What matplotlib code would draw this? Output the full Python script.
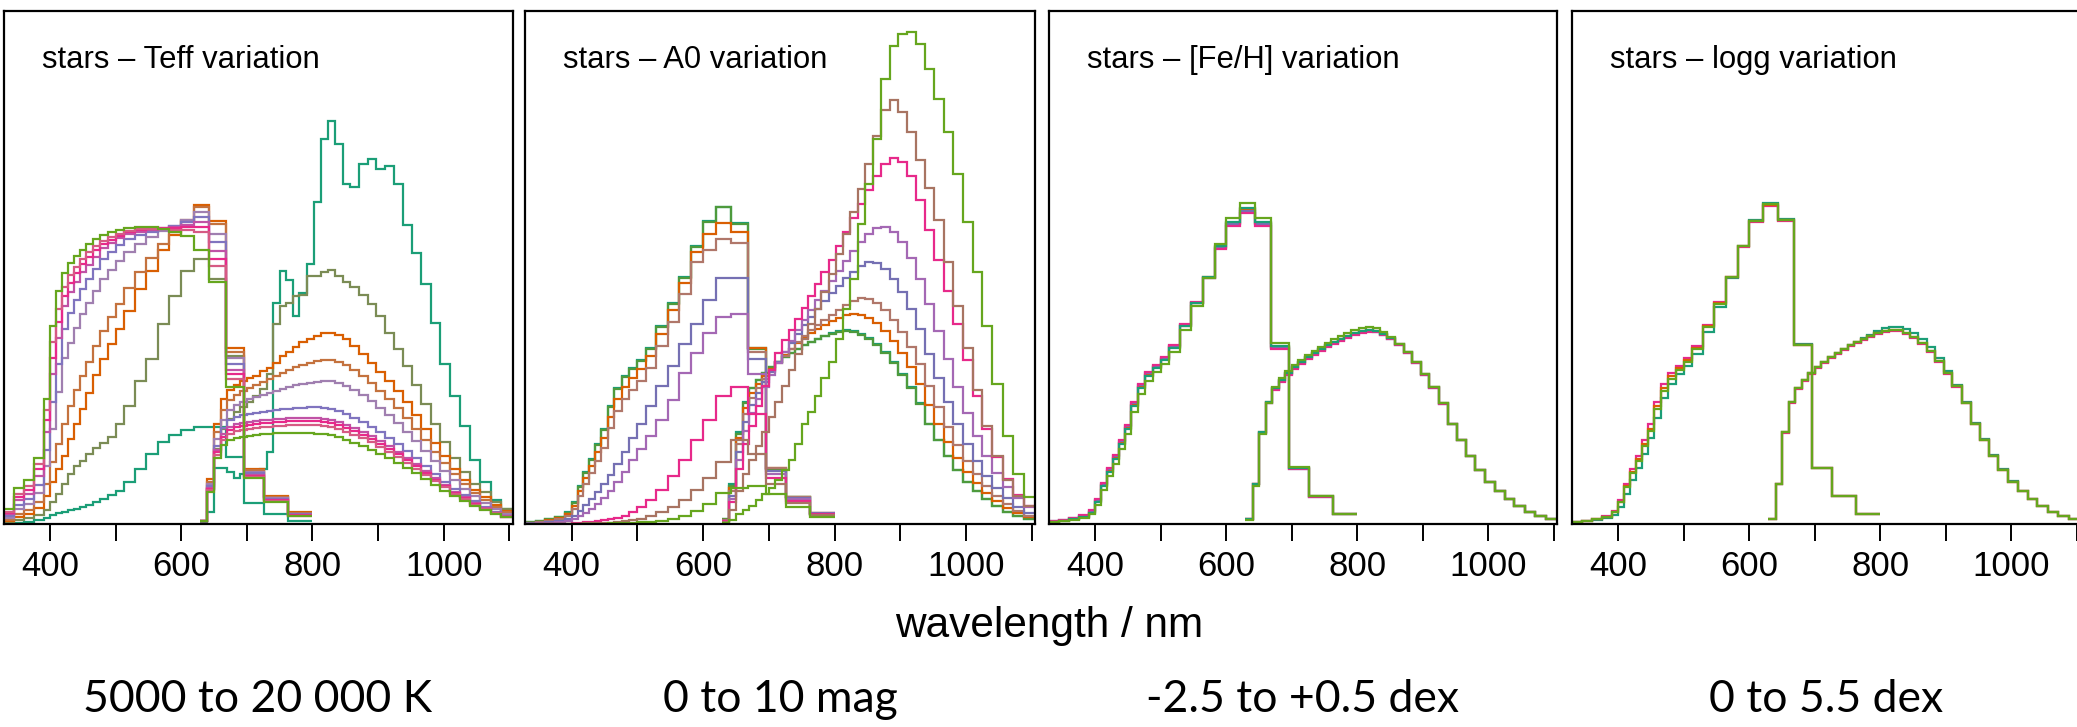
import matplotlib.pyplot as plt

# wavelength bin edges (nm) of the sampled BP and RP spectra
bp_edges = [330, 345, 360, 375, 390, 400, 409, 418, 427, 436, 445, 455, 465, 476, 488,
            500, 513, 529, 546, 564, 582, 600, 620, 643, 668, 696, 726, 763, 800]
rp_edges = [628, 640, 650, 660, 670, 680, 690, 700, 710, 720, 730, 740, 750, 760, 770,
            780, 791, 802, 813, 824, 835, 846, 858, 871, 884, 897, 910, 924, 938, 952,
            966, 980, 995, 1010, 1025, 1040, 1056, 1072, 1088, 1105]

# ---- panel 1: Teff variation (flux in arbitrary units)
teff_bp_teal = [0.5, 1, 2, 4, 6, 9, 11, 12.5, 14, 15.5, 17, 19, 22, 25, 29, 33, 42, 55, 70, 82, 89, 94, 97, 97, 67, 21, 10, 3.6]
teff_bp_olive = [2, 4, 6, 9, 14, 22, 30, 40, 50, 58, 63, 70, 76, 81, 87, 100, 118, 143, 165, 200, 228, 253, 265, 245, 168, 53, 27, 11]
teff_bp_orange = [3, 7, 10, 16, 28, 42, 55, 68, 85, 100, 115, 131, 149, 165, 180, 195, 213, 235, 253, 274, 289, 303, 319, 303, 176, 55, 28, 12]
teff_bp_brown = [4, 10, 14, 22, 40, 62, 80, 100, 118, 134, 148, 162, 178, 193, 207, 220, 236, 252, 266, 280, 292, 304, 317, 300, 172, 54, 27, 11]
teff_bp_lavender = [6, 15, 20, 31, 58, 95, 132, 166, 181, 196, 210, 221, 233, 245, 254, 263, 272, 280, 287, 293, 298, 304, 312, 290, 166, 52, 26, 10]
teff_bp_purple = [8, 19, 25, 39, 74, 122, 160, 195, 211, 224, 235, 245, 255, 265, 272, 279, 285, 289, 292, 295, 298, 302, 307, 282, 160, 51, 25, 10]
teff_bp_orchid = [10, 24, 30, 48, 92, 150, 186, 218, 232, 242, 252, 259, 267, 276, 281, 286, 290, 292, 294, 296, 297, 299, 302, 273, 154, 49, 24, 9]
teff_bp_pink = [11, 27, 34, 55, 104, 166, 202, 228, 241, 251, 260, 267, 274, 280, 284, 288, 292, 294, 295, 296, 296, 297, 297, 265, 150, 48, 24, 9]
teff_bp_rose = [12, 30, 38, 60, 114, 182, 215, 237, 249, 257, 265, 272, 278, 283, 287, 290, 293, 295, 295, 295, 294, 294, 292, 258, 145, 47, 23, 8]
teff_bp_green = [15, 36, 44, 66, 125, 198, 233, 251, 261, 268, 274, 280, 285, 289, 292, 294, 296, 297, 297, 295, 292, 288, 274, 242, 137, 46, 22, 8]

teff_rp_teal = [2, 12, 56, 56, 52, 46, 50, 52, 48, 55, 72, 221, 253, 244, 208, 231, 260, 322, 385, 403, 380, 340, 337, 360, 365, 355, 358, 340, 299, 271, 240, 201, 160, 128, 98, 64, 42, 24, 15]
teff_rp_olive = [3, 35, 75, 95, 105, 112, 117, 122, 128, 135, 150, 200, 218, 221, 228, 229, 248, 248, 252, 254, 248, 242, 237, 229, 220, 208, 191, 175, 158, 139, 120, 100, 82, 66, 52, 40, 32, 22, 15]
teff_rp_orange = [3, 45, 100, 125, 134, 139, 143, 146, 148, 153, 156, 161, 168, 172, 177, 182, 185, 188, 191, 191, 189, 185, 178, 170, 161, 152, 143, 133, 122, 109, 95, 81, 68, 55, 44, 34, 27, 19, 13]
teff_rp_brown = [3, 42, 92, 114, 124, 129, 133, 136, 139, 142, 145, 148, 151, 154, 157, 159, 161, 163, 164, 164, 162, 159, 154, 148, 141, 133, 125, 116, 106, 95, 84, 72, 61, 50, 40, 31, 24, 17, 12]
teff_rp_lavender = [3, 40, 85, 104, 114, 119, 122, 125, 127, 129, 131, 133, 135, 137, 139, 140, 141, 142, 143, 143, 141, 138, 134, 129, 123, 116, 109, 101, 92, 83, 73, 63, 53, 44, 35, 28, 21, 15, 10]
teff_rp_purple = [3, 38, 78, 96, 104, 107, 109, 110, 111, 112, 113, 114, 115, 115, 116, 116, 117, 117, 116, 115, 113, 110, 106, 102, 97, 92, 86, 80, 73, 66, 58, 50, 42, 35, 29, 23, 17, 12, 8]
teff_rp_orchid = [3, 36, 74, 90, 97, 100, 101, 102, 103, 104, 104, 105, 105, 106, 106, 106, 106, 106, 105, 104, 102, 99, 96, 92, 88, 83, 78, 72, 66, 60, 53, 46, 39, 32, 27, 21, 16, 11, 8]
teff_rp_pink = [3, 35, 72, 87, 94, 97, 98, 99, 100, 101, 101, 102, 102, 103, 103, 103, 103, 103, 102, 101, 99, 96, 93, 89, 85, 80, 75, 70, 64, 58, 51, 44, 38, 31, 26, 20, 15, 11, 7]
teff_rp_rose = [3, 34, 69, 84, 90, 93, 94, 95, 96, 97, 97, 98, 98, 99, 99, 99, 99, 99, 98, 97, 95, 92, 89, 86, 82, 77, 72, 67, 61, 55, 49, 43, 37, 30, 25, 19, 15, 11, 7]
teff_rp_green = [3, 32, 66, 79, 84, 86, 87, 88, 89, 90, 90, 91, 91, 91, 91, 91, 91, 90, 90, 89, 87, 84, 81, 78, 74, 70, 66, 61, 56, 51, 45, 39, 33, 28, 23, 18, 14, 10, 7]

# ---- panel 2: A0 variation
a0_bp_teal = [2, 3, 5, 7, 12, 22, 38, 52, 65, 80, 95, 118, 136, 148, 156, 164, 176, 198, 221, 247, 278, 303, 317, 301, 176, 55, 27, 10]
a0_bp_dkgreen = [2, 3, 5, 7, 11, 21, 37, 51, 64, 79, 94, 117, 135, 147, 155, 163, 175, 197, 220, 246, 277, 302, 317, 300, 175, 55, 27, 10]
a0_bp_orange = [1, 2, 4, 6, 10, 18, 33, 46, 58, 72, 86, 107, 125, 137, 146, 155, 168, 190, 214, 241, 272, 290, 301, 292, 176, 56, 27, 11]
a0_bp_rosy = [1, 2, 3, 5, 8, 15, 28, 40, 51, 63, 76, 96, 113, 125, 134, 143, 156, 178, 202, 230, 262, 274, 285, 281, 172, 56, 27, 11]
a0_bp_blue = [1, 1.5, 2, 3, 5, 8, 13, 19, 25, 32, 40, 49, 60, 72, 86, 100, 118, 138, 158, 180, 200, 224, 246, 246, 165, 53, 26, 11]
a0_bp_purple = [0.5, 1, 1.5, 2, 3, 5, 8, 11, 15, 20, 26, 33, 42, 52, 64, 75, 88, 104, 124, 151, 171, 191, 207, 210, 150, 50, 25, 10]
a0_bp_pink = [0.3, 0.4, 0.5, 0.6, 0.8, 1, 1.5, 2, 2.5, 3, 4, 5, 6, 8, 12, 17, 24, 34, 48, 64, 84, 104, 128, 137, 110, 46, 23, 10]
a0_bp_brown = [0, 0, 0, 0, 0, 0.5, 0.5, 1, 1, 1, 1.5, 1.5, 2, 3, 4, 5, 8, 12, 17, 24, 34, 46, 62, 84, 70, 40, 21, 9]
a0_bp_green = [0, 0, 0, 0, 0, 0, 0, 0, 0.5, 0.5, 0.5, 1, 1, 1, 1.5, 2, 2, 3, 5, 8, 13, 20, 31, 36, 38, 30, 17, 7]

a0_rp_teal = [5, 40, 92, 122, 136, 144, 151, 157, 162, 167, 171, 175, 179, 182, 185, 188, 191, 193, 194, 193, 190, 186, 180, 172, 162, 150, 137, 121, 100, 84, 68, 54, 42, 33, 25, 18, 12, 8, 5]
a0_rp_dkgreen = [5, 38, 90, 121, 136, 144, 151, 157, 162, 167, 171, 175, 179, 182, 185, 188, 190, 192, 193, 192, 189, 185, 179, 171, 161, 149, 136, 120, 100, 84, 68, 54, 42, 33, 25, 18, 12, 8, 5]
a0_rp_orange = [4, 36, 86, 116, 131, 140, 148, 155, 162, 169, 175, 181, 186, 191, 195, 199, 203, 206, 209, 210, 209, 206, 201, 193, 183, 171, 157, 140, 119, 100, 82, 66, 52, 41, 31, 23, 16, 11, 7]
a0_rp_rosy = [4, 33, 80, 110, 126, 136, 145, 153, 161, 168, 175, 182, 188, 194, 199, 204, 209, 214, 219, 223, 226, 225, 221, 214, 204, 192, 177, 160, 138, 117, 97, 79, 63, 50, 38, 28, 20, 13, 8]
a0_rp_blue = [3, 28, 72, 102, 119, 131, 142, 152, 162, 172, 181, 190, 199, 207, 215, 223, 231, 238, 246, 252, 258, 262, 261, 255, 245, 232, 215, 195, 170, 146, 122, 100, 80, 63, 48, 36, 26, 17, 11]
a0_rp_purple = [3, 25, 64, 93, 111, 125, 137, 149, 161, 172, 183, 194, 204, 214, 224, 233, 243, 253, 263, 273, 282, 290, 296, 297, 292, 282, 266, 245, 220, 193, 165, 137, 111, 88, 68, 51, 37, 26, 17]
a0_rp_pink = [3, 22, 55, 80, 98, 118, 138, 154, 171, 184, 194, 205, 216, 228, 240, 252, 264, 278, 292, 306, 320, 334, 348, 360, 366, 362, 348, 324, 294, 264, 233, 200, 164, 128, 95, 67, 45, 29, 18]
a0_rp_brown = [2, 14, 33, 50, 64, 78, 92, 107, 122, 138, 154, 170, 185, 200, 215, 232, 250, 270, 290, 312, 335, 360, 388, 414, 424, 412, 392, 364, 336, 304, 262, 218, 176, 134, 98, 68, 44, 28, 18]
a0_rp_green = [1, 4, 10, 14, 18, 24, 30, 36, 44, 54, 64, 80, 100, 112, 128, 146, 162, 185, 215, 245, 300, 340, 385, 445, 478, 490, 492, 480, 455, 425, 392, 350, 302, 252, 198, 140, 88, 50, 27]

# ---- panel 3: [Fe/H] variation
feh_bp_orange = [2, 3, 5, 7, 12, 23, 39, 53, 66, 81, 96, 119, 137, 149, 157, 165, 177, 198, 221, 247, 277, 301, 315, 301, 177, 56, 28, 10]
feh_bp_purple = [3, 4, 6, 8, 13, 24, 40, 55, 68, 83, 98, 121, 139, 151, 158, 166, 178, 199, 221, 246, 276, 300, 313, 300, 176, 55, 27, 10]
feh_bp_pink = [3, 4, 6, 9, 14, 25, 41, 56, 69, 84, 99, 122, 140, 152, 159, 167, 179, 200, 222, 246, 275, 298, 311, 298, 175, 55, 27, 10]
feh_bp_teal = [2, 3, 5, 7, 11, 22, 38, 52, 65, 80, 95, 118, 136, 148, 156, 164, 176, 198, 221, 247, 278, 302, 316, 302, 178, 56, 28, 10]
feh_bp_green = [2, 3, 4, 6, 10, 19, 34, 48, 60, 75, 90, 112, 130, 143, 152, 160, 172, 194, 218, 246, 280, 306, 321, 306, 181, 57, 28, 10]

feh_rp_orange = [5, 40, 92, 122, 136, 144, 151, 157, 162, 167, 171, 175, 179, 182, 185, 188, 191, 193, 194, 193, 190, 186, 180, 172, 162, 150, 137, 121, 100, 84, 68, 54, 42, 33, 25, 18, 12, 8, 5]
feh_rp_purple = [5, 40, 91, 121, 135, 143, 150, 156, 161, 166, 170, 174, 178, 181, 184, 187, 190, 192, 193, 192, 189, 185, 179, 171, 161, 149, 136, 120, 100, 84, 68, 54, 42, 33, 25, 18, 12, 8, 5]
feh_rp_pink = [5, 40, 91, 121, 134, 142, 149, 155, 160, 165, 169, 173, 177, 180, 183, 186, 189, 191, 192, 192, 189, 185, 179, 171, 161, 149, 136, 120, 100, 84, 68, 54, 42, 33, 25, 18, 12, 8, 5]
feh_rp_teal = [5, 40, 92, 122, 136, 144, 151, 157, 162, 167, 171, 175, 179, 182, 185, 188, 191, 193, 194, 193, 190, 186, 180, 172, 162, 150, 137, 121, 100, 84, 68, 54, 42, 33, 25, 18, 12, 8, 5]
feh_rp_green = [4, 38, 90, 121, 137, 146, 153, 159, 164, 169, 173, 177, 181, 185, 188, 191, 194, 196, 197, 196, 192, 187, 180, 172, 162, 150, 137, 121, 100, 84, 68, 54, 42, 33, 25, 18, 12, 8, 5]

# ---- panel 4: logg variation
logg_bp_teal = [2, 3, 4, 6, 9, 17, 30, 44, 56, 70, 86, 106, 126, 140, 150, 158, 170, 192, 217, 246, 278, 304, 321, 305, 180, 56, 28, 10]
logg_bp_pink = [2, 3, 5, 8, 13, 24, 40, 55, 68, 84, 100, 122, 140, 151, 158, 166, 178, 199, 222, 247, 277, 302, 318, 303, 179, 56, 28, 10]
logg_bp_orange = [2, 3, 5, 7, 12, 22, 38, 52, 65, 80, 95, 118, 136, 148, 156, 164, 176, 198, 221, 247, 278, 303, 319, 304, 179, 56, 28, 10]
logg_bp_green = [2, 3, 5, 7, 12, 22, 37, 51, 63, 78, 93, 115, 133, 145, 154, 162, 175, 197, 220, 247, 278, 303, 320, 304, 179, 56, 28, 10]

logg_rp_teal = [5, 40, 92, 122, 136, 144, 151, 157, 162, 167, 171, 175, 179, 182, 186, 189, 193, 196, 197, 197, 195, 191, 185, 177, 166, 153, 139, 122, 101, 85, 69, 55, 43, 33, 25, 18, 12, 8, 5]
logg_rp_pink = [5, 40, 91, 121, 135, 143, 150, 156, 161, 166, 170, 174, 178, 181, 184, 187, 190, 192, 193, 193, 190, 186, 180, 172, 162, 150, 137, 121, 100, 84, 68, 54, 42, 33, 25, 18, 12, 8, 5]
logg_rp_orange = [5, 40, 92, 122, 136, 144, 151, 157, 162, 167, 171, 175, 179, 182, 185, 188, 191, 193, 194, 194, 191, 187, 181, 173, 163, 151, 138, 121, 100, 84, 68, 54, 42, 33, 25, 18, 12, 8, 5]
logg_rp_green = [5, 40, 92, 122, 136, 144, 151, 157, 162, 167, 171, 175, 179, 182, 185, 188, 191, 193, 194, 194, 191, 187, 181, 173, 163, 151, 138, 121, 100, 84, 68, 54, 42, 33, 25, 18, 12, 8, 5]

titles = ["stars \u2013 Teff variation", "stars \u2013 A0 variation",
          "stars \u2013 [Fe/H] variation", "stars \u2013 logg variation"]
ranges = ["5000 to 20 000 K", "0 to 10 mag", "-2.5 to +0.5 dex", "0 to 5.5 dex"]

TEAL, OLIVE, ORANGE, GREEN, PINK = "#1b9e77", "#7b8c55", "#d95f02", "#66a61e", "#e7298a"
panels = [
    [(teff_bp_teal, teff_rp_teal, TEAL), (teff_bp_olive, teff_rp_olive, OLIVE),
     (teff_bp_orange, teff_rp_orange, ORANGE), (teff_bp_brown, teff_rp_brown, "#c4723e"),
     (teff_bp_lavender, teff_rp_lavender, "#a07fb0"), (teff_bp_purple, teff_rp_purple, "#8074bf"),
     (teff_bp_orchid, teff_rp_orchid, "#c052a6"), (teff_bp_pink, teff_rp_pink, PINK),
     (teff_bp_rose, teff_rp_rose, "#d65a84"), (teff_bp_green, teff_rp_green, GREEN)],
    [(a0_bp_teal, a0_rp_teal, TEAL), (a0_bp_dkgreen, a0_rp_dkgreen, "#4e9a3c"),
     (a0_bp_orange, a0_rp_orange, ORANGE), (a0_bp_rosy, a0_rp_rosy, "#b0776a"),
     (a0_bp_blue, a0_rp_blue, "#7570b3"), (a0_bp_purple, a0_rp_purple, "#a468b4"),
     (a0_bp_pink, a0_rp_pink, PINK), (a0_bp_brown, a0_rp_brown, "#a87462"),
     (a0_bp_green, a0_rp_green, GREEN)],
    [(feh_bp_orange, feh_rp_orange, ORANGE), (feh_bp_purple, feh_rp_purple, "#7570b3"),
     (feh_bp_pink, feh_rp_pink, PINK), (feh_bp_teal, feh_rp_teal, TEAL),
     (feh_bp_green, feh_rp_green, GREEN)],
    [(logg_bp_teal, logg_rp_teal, TEAL), (logg_bp_pink, logg_rp_pink, PINK),
     (logg_bp_orange, logg_rp_orange, ORANGE), (logg_bp_green, logg_rp_green, GREEN)],
]

W, H = 2077, 727
fig = plt.figure(figsize=(W / 100, H / 100), dpi=100)
boxes = [(3.5, 509), (525, 510), (1049, 508), (1572, 508)]  # left, width in px
top, bottom = 10.7, 524.3

for (x0, w), curves, title, rng in zip(boxes, panels, titles, ranges):
    ax = fig.add_axes([x0 / W, 1 - bottom / H, w / W, (bottom - top) / H])
    for bp, rp, c in curves:
        ax.stairs(bp, bp_edges, baseline=None, color=c, lw=1.6)
        ax.stairs(rp, rp_edges, baseline=None, color=c, lw=1.6)
    ax.set_xlim(329, 1105)
    ax.set_ylim(0, bottom - top)
    ax.set_yticks([])
    ax.set_xticks(range(400, 1101, 100))
    ax.set_xticklabels(["400", "", "600", "", "800", "", "1000", ""],
                       family="Liberation Sans", fontsize=25)
    ax.tick_params(axis="x", direction="out", length=12.5, width=1.4, pad=6)
    for s in ax.spines.values():
        s.set_linewidth(1.6)
    ax.text(38 / w, 1 - 57 / (bottom - top), title, transform=ax.transAxes,
            ha="left", va="baseline", fontsize=22.3, family="Liberation Sans")
    fig.text((x0 + w / 2) / W, 1 - 712 / H, rng, ha="center", va="baseline",
             fontsize=32, family="Lato")

fig.text(1049 / W, 1 - 637 / H, "wavelength / nm", ha="center", va="baseline",
         fontsize=30.5, family="Liberation Sans")

fig.savefig("out.png", dpi=100)
